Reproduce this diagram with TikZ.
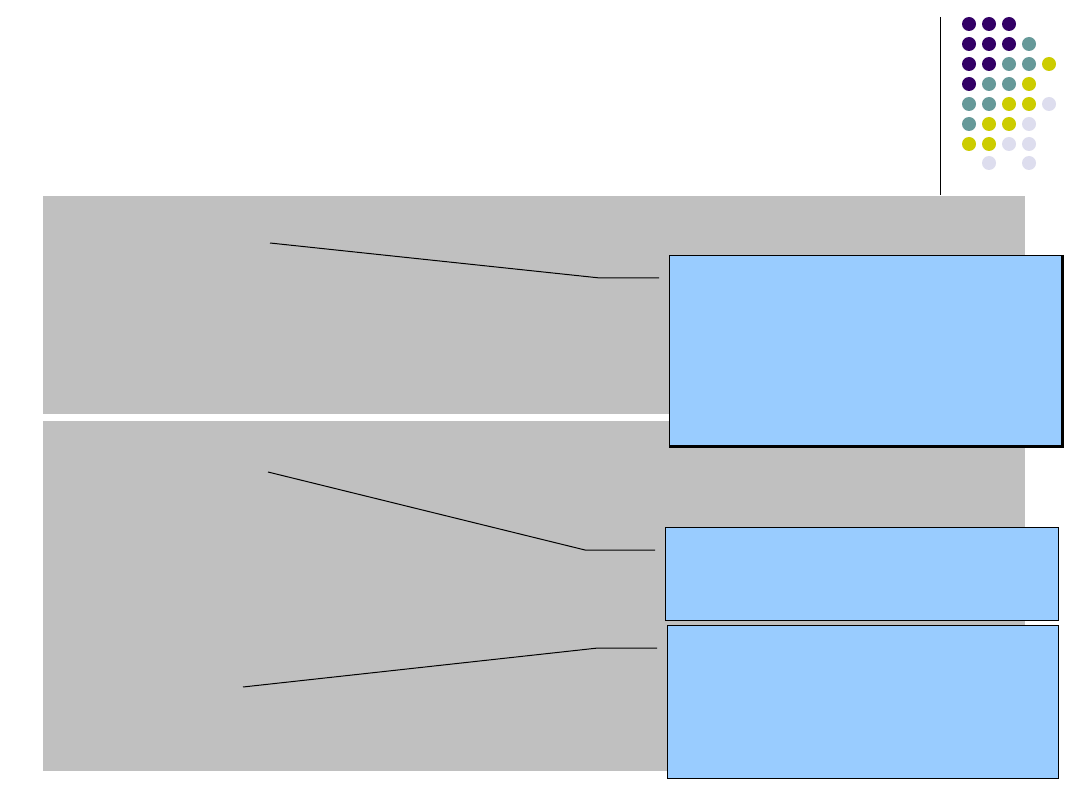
\documentclass[tikz,border=0pt]{standalone}
\usetikzlibrary{positioning}
\definecolor{panelgray}{HTML}{C0C0C0}
\definecolor{boxblue}{HTML}{99CCFF}
\definecolor{dpurple}{HTML}{330066}
\definecolor{dteal}{HTML}{669999}
\definecolor{dyellow}{HTML}{CCCC00}
\definecolor{dlav}{HTML}{DDDDEE}
\tikzset{
  panel/.style={fill=panelgray, draw=none, anchor=north west, inner sep=0pt},
  callout/.style={fill=boxblue, draw=black, line width=1.2pt, anchor=north west, inner sep=0pt},
  leader/.style={draw=black, line width=1pt},
  dot/.style={circle, inner sep=0pt, minimum size=14pt, draw=none},
}
\begin{document}
\begin{tikzpicture}[x=1pt,y=-1pt]
\useasboundingbox (0,0) rectangle (1080,810);
\fill[white] (0,0) rectangle (1080,810);
% panels
\node[panel, minimum width=982pt, minimum height=218pt] (p1) at (43,196) {};
\node[panel, minimum width=982pt, minimum height=350pt] (p2) at (43,421) {};
% divider line
\coordinate (vt) at (940,17);
\coordinate (vb) at (940,195);
\draw[line width=1pt] (vt) -- (vb);
% dots
\foreach \c [count=\i] in {dpurple,dpurple,dpurple}{\node[dot,fill=\c] (r1d\i) at ({949+20*\i},24) {};}
\foreach \c [count=\i] in {dpurple,dpurple,dpurple,dteal}{\node[dot,fill=\c] (r2d\i) at ({949+20*\i},44) {};}
\foreach \c [count=\i] in {dpurple,dpurple,dteal,dteal,dyellow}{\node[dot,fill=\c] (r3d\i) at ({949+20*\i},64) {};}
\foreach \c [count=\i] in {dpurple,dteal,dteal,dyellow}{\node[dot,fill=\c] (r4d\i) at ({949+20*\i},84) {};}
\foreach \c [count=\i] in {dteal,dteal,dyellow,dyellow,dlav}{\node[dot,fill=\c] (r5d\i) at ({949+20*\i},104) {};}
\foreach \c [count=\i] in {dteal,dyellow,dyellow,dlav}{\node[dot,fill=\c] (r6d\i) at ({949+20*\i},124) {};}
\foreach \c [count=\i] in {dyellow,dyellow,dlav,dlav}{\node[dot,fill=\c] (r7d\i) at ({949+20*\i},144) {};}
\node[dot,fill=dlav] (r8d2) at (989,163) {};
\node[dot,fill=dlav] (r8d4) at (1029,163) {};
% callout boxes
\node[callout, minimum width=393pt, minimum height=191pt] (b1) at (669,255) {};
\draw[line width=2.5pt] ([xshift=-0.5pt]b1.north east) -- ([xshift=-0.5pt,yshift=0.5pt]b1.south east) -- ([yshift=0.5pt]b1.south west);
\node[callout, minimum width=393pt, minimum height=93pt] (b2) at (665,527) {};
\node[callout, minimum width=391pt, minimum height=153pt] (b3) at (667,625) {};
% leader lines
\coordinate (l1a) at (270,243);
\coordinate (l1b) at (600,278);
\coordinate (l1c) at (659,278);
\draw[leader] (l1a) -- (l1b) -- (l1c);
\coordinate (l2a) at (268,472);
\coordinate (l2b) at (585,550);
\coordinate (l2c) at (655,550);
\draw[leader] (l2a) -- (l2b) -- (l2c);
\coordinate (l3a) at (243,687);
\coordinate (l3b) at (598,648);
\coordinate (l3c) at (657,648);
\draw[leader] (l3a) -- (l3b) -- (l3c);
\end{tikzpicture}
\end{document}
